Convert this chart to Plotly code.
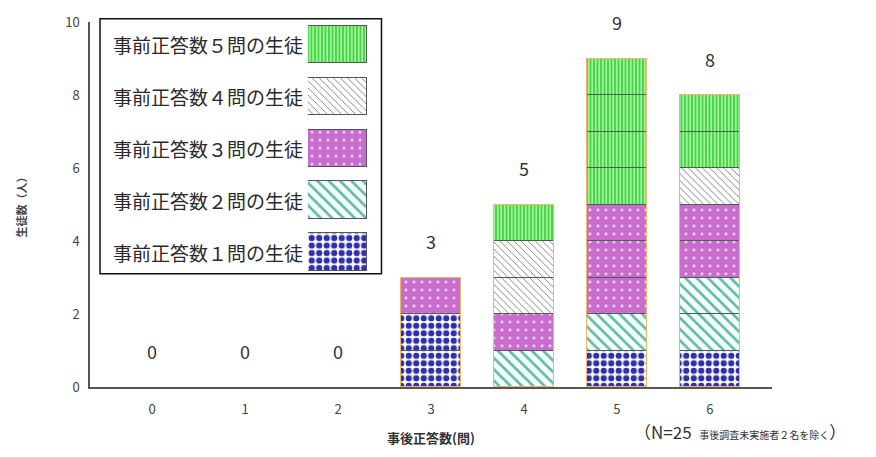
import plotly.graph_objects as go

# Post-test score (number of correct answers) on the x axis
scores = [0, 1, 2, 3, 4, 5, 6]
tick_labels = ["0", "1", "2", "3", "4", "5", "6"]

# Students per post-test score, split by pre-test score (1..5 correct)
pre1 = [0, 0, 0, 2, 0, 1, 1]
pre2 = [0, 0, 0, 0, 1, 1, 2]
pre3 = [0, 0, 0, 1, 1, 3, 2]
pre4 = [0, 0, 0, 0, 2, 0, 1]
pre5 = [0, 0, 0, 0, 1, 4, 2]

group_names = ["事前正答数１問の生徒", "事前正答数２問の生徒", "事前正答数３問の生徒",
               "事前正答数４問の生徒", "事前正答数５問の生徒"]
groups = [pre1, pre2, pre3, pre4, pre5]

y_ticks = [0, 2, 4, 6, 8, 10]
note_n = "（N=25"
note_rest = "事後調査未実施者２名を除く"

# Fill styles for each pre-test group
styles = [
    dict(color="#ffffff", pattern=dict(shape=".", fgcolor="#3030a8", fgopacity=1, size=7.5, solidity=0.55)),
    dict(color="#f4fcfa", pattern=dict(shape="\\", fgcolor="#5fb8a9", fgopacity=1, size=8, solidity=0.32)),
    dict(color="#c86dce", pattern=dict(shape=".", fgcolor="#f6d6f6", fgopacity=1, size=8, solidity=0.1)),
    dict(color="#ffffff", pattern=dict(shape="\\", fgcolor="#444444", fgopacity=1, size=5, solidity=0.13)),
    dict(color="#3fd83f", pattern=dict(shape="|", fgcolor="#d6fbd0", fgopacity=1, size=3.5, solidity=0.35)),
]
seg_line = dict(color="#4e5e4e", width=1)

totals = [sum(v) for v in zip(*groups)]

fig = go.Figure()

# Stack one unit block per student so every student gets its own cell
for name, counts, st in zip(group_names, groups, styles):
    for k in range(max(counts)):
        fig.add_trace(go.Bar(
            x=scores,
            y=[1 if c > k else None for c in counts],
            name=name,
            width=0.635,
            marker=dict(color=st["color"], pattern=st["pattern"], line=seg_line),
            showlegend=False,
            hoverinfo="skip",
        ))

# Thin orange outline around each whole column
fig.add_trace(go.Bar(
    x=scores, y=[t if t > 0 else None for t in totals],
    width=0.635, xaxis="x3", yaxis="y3",
    marker=dict(color="rgba(0,0,0,0)", line=dict(color="#f0b868", width=1)),
    showlegend=False, hoverinfo="skip",
))

# Legend swatches drawn as horizontal bars in a small inset axis
for i, (name, st) in enumerate(zip(group_names, styles)):
    fig.add_trace(go.Bar(
        x=[1], y=[i + 1], orientation="h", width=0.72,
        xaxis="x2", yaxis="y2",
        marker=dict(color=st["color"], pattern=st["pattern"], line=dict(color="#555555", width=1)),
        showlegend=False, hoverinfo="skip",
    ))

annotations = []
for x, t in zip(scores, totals):
    annotations.append(dict(x=x, y=t + 1, xref="x", yref="y", text=str(t), showarrow=False,
                            font=dict(size=18, color="#333333"), yanchor="middle"))
for i, lab in enumerate(group_names):
    annotations.append(dict(x=0.0304, y=i + 1, xref="paper", yref="y2", text=lab, showarrow=False,
                            xanchor="left", yanchor="middle",
                            font=dict(size=19, color="#2a2a2a")))
annotations.append(dict(x=-0.1026, y=0.5, xref="paper", yref="paper", text="<b>生徒数（人）</b>",
                        textangle=-90, showarrow=False, xanchor="center", yanchor="middle",
                        font=dict(size=11, color="#444444")))
annotations.append(dict(x=0.5, y=-0.138, xref="paper", yref="paper", text="<b>事後正答数(問)</b>",
                        showarrow=False, xanchor="center", yanchor="middle",
                        font=dict(size=13, color="#333333")))
annotations.append(dict(x=0.794, y=-0.122, xref="paper", yref="paper", xanchor="left", yanchor="middle",
                        text=note_n + "  <span style='font-size:10px'>" + note_rest + "</span>）",
                        showarrow=False, font=dict(size=17, color="#333333")))

fig.update_layout(
    width=876, height=457,
    margin=dict(l=90, r=104, t=17, b=70),
    paper_bgcolor="white", plot_bgcolor="white",
    barmode="stack", bargap=0,
    font=dict(family="Noto Sans CJK JP, Noto Sans, sans-serif", color="#333333"),
    xaxis=dict(range=[-0.667, 6.667], tickmode="array", tickvals=scores, ticktext=tick_labels,
               showline=True, linecolor="#555555", linewidth=1.5, showgrid=False, zeroline=False,
               ticks="outside", ticklen=10, tickcolor="rgba(0,0,0,0)",
               tickfont=dict(size=13, color="#444444")),
    yaxis=dict(range=[0, 10], tickvals=y_ticks, showline=True, linecolor="#555555", linewidth=1.5,
               showgrid=False, zeroline=False, ticks="outside", ticklen=6, tickcolor="rgba(0,0,0,0)",
               tickfont=dict(size=13, color="#444444")),
    xaxis3=dict(range=[-0.667, 6.667], overlaying="x", visible=False),
    yaxis3=dict(range=[0, 10], overlaying="y", visible=False),
    xaxis2=dict(domain=[0.3196, 0.4062], range=[0, 1], visible=False, anchor="y2"),
    yaxis2=dict(domain=[0.3127, 0.9938], range=[0.6, 5.4], visible=False, anchor="x2"),
    annotations=annotations,
    shapes=[dict(type="rect", xref="paper", yref="paper", x0=0.0147, x1=0.4274, y0=0.31, y1=1.009,
                 line=dict(color="#111111", width=1.5), fillcolor="rgba(0,0,0,0)", layer="below")],
)

fig.write_html("out.html")
